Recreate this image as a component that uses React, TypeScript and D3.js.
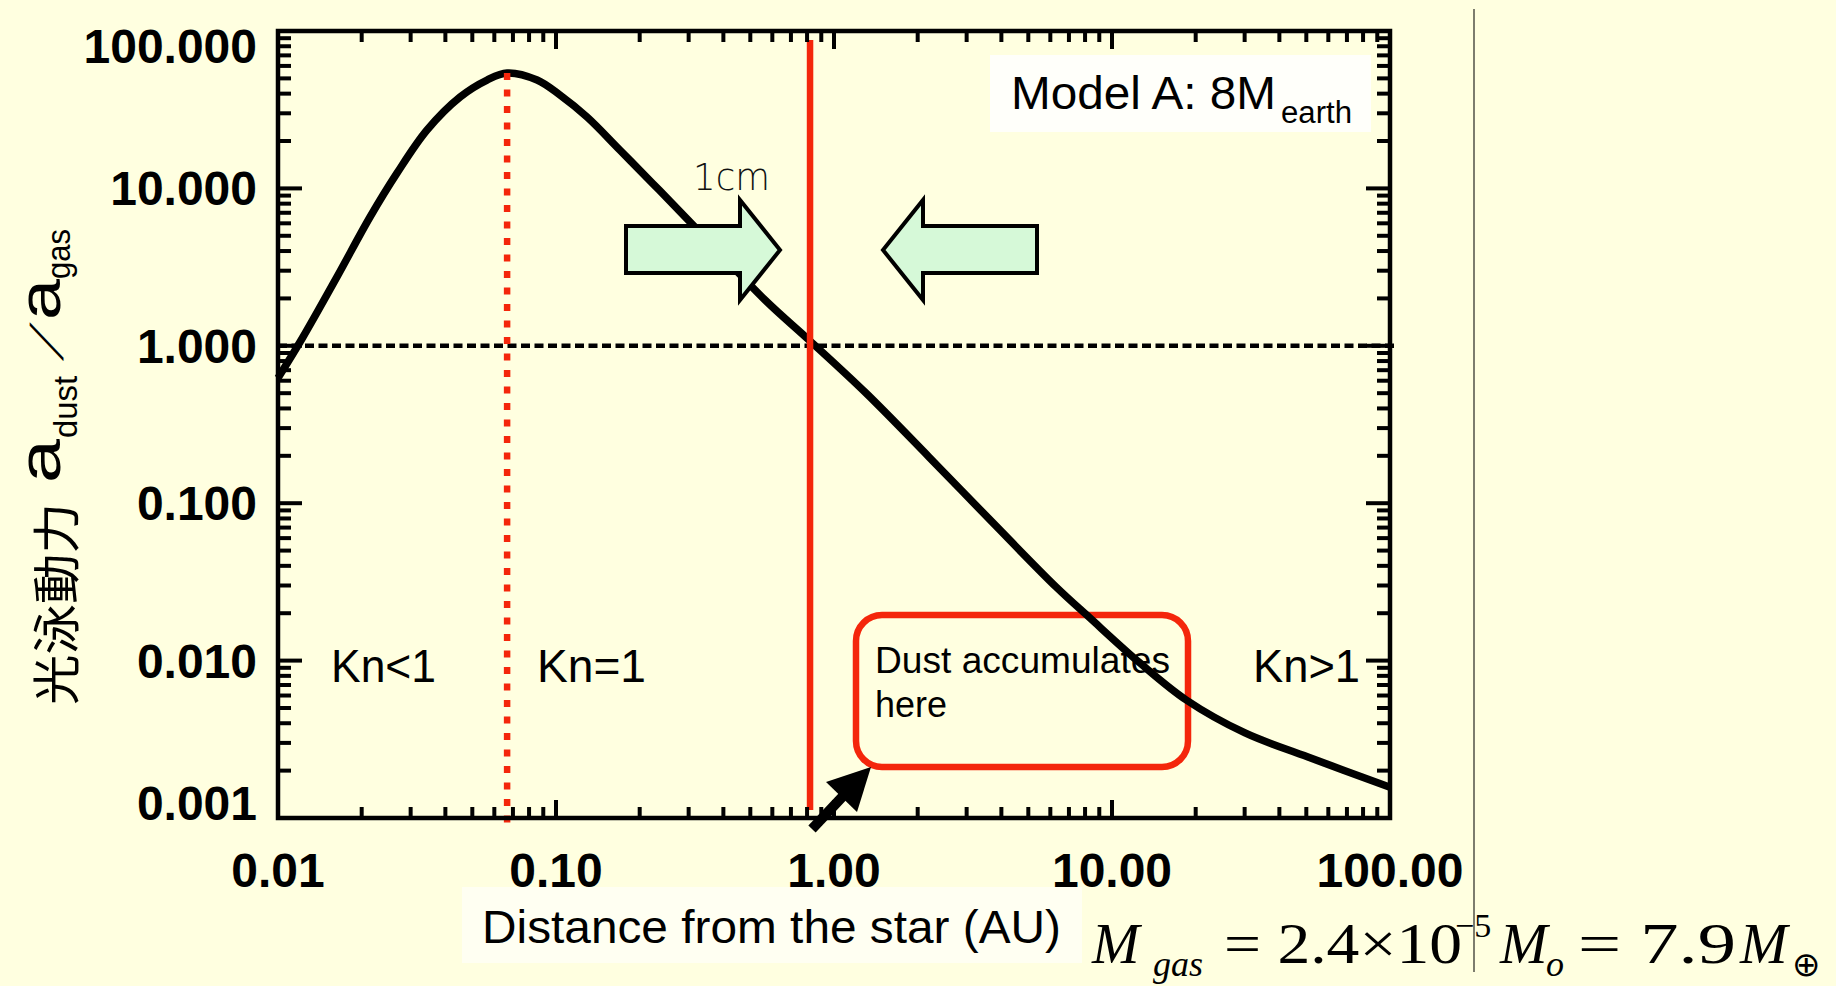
import React from 'react';
import * as d3 from 'd3';

// ---- data ----
const distanceAU = [0.01, 0.0123, 0.0163, 0.02143, 0.02679, 0.03436, 0.04519, 0.0565, 0.0667, 0.0855, 0.1033, 0.1293, 0.1698, 0.2234, 0.3112, 0.5649, 0.8128, 1.303, 2.197, 3.733, 6.29, 8.26, 12.6, 18.5, 30.1, 50.7, 100];
const accelRatio = [0.624, 1.137, 2.74, 6.58, 12.5, 23.5, 38.1, 48.8, 54.1, 48.8, 39.2, 28.4, 17.5, 10.7, 5.85, 1.954, 1.089, 0.501, 0.1965, 0.0749, 0.0294, 0.0189, 0.00966, 0.00562, 0.00347, 0.00244, 0.00157];

const xTickValues = [0.01, 0.1, 1, 10, 100];
const xTickLabels = ['0.01', '0.10', '1.00', '10.00', '100.00'];
const yTickValues = [0.001, 0.01, 0.1, 1, 10, 100];
const yTickLabels = ['0.001', '0.010', '0.100', '1.000', '10.000', '100.000'];

const peakDistance = 0.0667; // red dotted line
const accumulationDistance = 0.82; // red solid line
const unityRatio = 1;

const W = 1836;
const H = 986;
const M = { left: 278, right: 1390, top: 31, bottom: 818 };

const SANS = "'Liberation Sans', Arial, Helvetica, sans-serif";
const SERIF = "'Liberation Serif', 'Times New Roman', serif";
const CJK = "'Noto Sans CJK JP', 'Noto Sans CJK SC', sans-serif";
const RED = '#f4260b';
const BG = '#ffffe0';
const GREEN = '#d6f9d8';

export default function App() {
  const x = d3.scaleLog().domain([0.01, 100]).range([M.left, M.right]);
  const y = d3.scaleLog().domain([0.001, 100]).range([M.bottom, M.top]);

  const line = d3
    .line<number>()
    .x((_, i) => x(distanceAU[i]))
    .y((d) => y(d))
    .curve(d3.curveCatmullRom.alpha(0.5));

  const isMajor = (v: number) => Math.abs(Math.log10(v) - Math.round(Math.log10(v))) < 1e-9;
  const xTicks = x.ticks();
  const yTicks = y.ticks();

  const peakValue = d3.max(accelRatio) as number;

  const yLabelY = (v: number) => Math.min(Math.max(y(v), M.top + 15), M.bottom - 15) + 17;

  const arrowR = (x0: number, x1: number, x2: number) =>
    `${x0},226 ${x1},226 ${x1},200 ${x2},250 ${x1},300 ${x1},273 ${x0},273`;

  return (
    <svg width={W} height={H} style={{ position: 'absolute', left: 0, top: 0, display: 'block' }}>
      <rect x={0} y={0} width={W} height={H} fill={BG} />

      {/* divider line */}
      <line x1={1474} x2={1474} y1={9} y2={972} stroke="#7d7d6e" strokeWidth={2} />

      {/* Model A box */}
      <rect x={990} y={55} width={381} height={77} fill="#fffffa" />
      <text x={1011} y={109} fontFamily={SANS} fontSize={46} textLength={265} lengthAdjust="spacingAndGlyphs">Model A: 8M</text>
      <text x={1281} y={123} fontFamily={SANS} fontSize={31} textLength={71} lengthAdjust="spacingAndGlyphs">earth</text>

      {/* unity dashed line */}
      <line x1={M.left} x2={M.right + 4} y1={y(unityRatio)} y2={y(unityRatio)} stroke="#000" strokeWidth={4.5} strokeDasharray="9 4.5" />

      {/* Dust box */}
      <rect x={856} y={615} width={332} height={152} rx={26} ry={26} fill="none" stroke={RED} strokeWidth={6.5} />
      <text x={875} y={673} fontFamily={SANS} fontSize={37} textLength={295} lengthAdjust="spacingAndGlyphs">Dust accumulates</text>
      <text x={875} y={717} fontFamily={SANS} fontSize={37} textLength={72} lengthAdjust="spacingAndGlyphs">here</text>

      {/* Kn labels */}
      <text x={331} y={682} fontFamily={SANS} fontSize={46} textLength={105} lengthAdjust="spacingAndGlyphs">Kn&lt;1</text>
      <text x={537} y={682} fontFamily={SANS} fontSize={46} textLength={109} lengthAdjust="spacingAndGlyphs">Kn=1</text>
      <text x={1253} y={682} fontFamily={SANS} fontSize={46} textLength={107} lengthAdjust="spacingAndGlyphs">Kn&gt;1</text>

      {/* curve */}
      <path d={line(accelRatio) || ''} fill="none" stroke="#000" strokeWidth={7.5} strokeLinejoin="round" />

      {/* red reference lines */}
      <line x1={x(peakDistance)} x2={x(peakDistance)} y1={y(peakValue)} y2={M.bottom + 8} stroke={RED} strokeWidth={6.5} strokeDasharray="7 9.5" />
      <line x1={x(accumulationDistance)} x2={x(accumulationDistance)} y1={M.top + 9} y2={M.bottom - 8} stroke={RED} strokeWidth={6.5} />

      {/* green arrows */}
      <polygon points={arrowR(626, 740, 780)} fill={GREEN} stroke="#000" strokeWidth={4} strokeLinejoin="miter" />
      <polygon points={arrowR(1037, 923, 883)} fill={GREEN} stroke="#000" strokeWidth={4} strokeLinejoin="miter" />
      <text x={693} y={190} fontFamily="'DejaVu Sans', sans-serif" fontWeight={200} fontSize={38} textLength={77} lengthAdjust="spacingAndGlyphs" fill="#111">1cm</text>

      {/* axes frame */}
      <rect x={M.left} y={M.top} width={M.right - M.left} height={M.bottom - M.top} fill="none" stroke="#000" strokeWidth={4.5} />

      {/* x ticks (bottom & top, inward) */}
      {xTicks.map((t, i) => {
        const len = isMajor(t) ? 18 : 11;
        const xx = x(t);
        return (
          <g key={'xt' + i}>
            <line x1={xx} x2={xx} y1={M.bottom} y2={M.bottom - len} stroke="#000" strokeWidth={4} />
            <line x1={xx} x2={xx} y1={M.top} y2={M.top + len} stroke="#000" strokeWidth={4} />
          </g>
        );
      })}
      {/* y ticks (left & right, inward) */}
      {yTicks.map((t, i) => {
        const len = isMajor(t) ? 24 : 13;
        const yy = y(t);
        return (
          <g key={'yt' + i}>
            <line x1={M.left} x2={M.left + len} y1={yy} y2={yy} stroke="#000" strokeWidth={4} />
            <line x1={M.right} x2={M.right - len} y1={yy} y2={yy} stroke="#000" strokeWidth={4} />
          </g>
        );
      })}

      {/* black pointer arrow */}
      <line x1={812} y1={829} x2={845} y2={794} stroke="#000" strokeWidth={10} />
      <polygon points="826,782 871,767 857,812" fill="#000" />

      {/* tick labels */}
      {xTickValues.map((v, i) => (
        <text key={'xl' + i} x={x(v)} y={887} textAnchor="middle" fontFamily={SANS} fontWeight="bold" fontSize={48}>
          {xTickLabels[i]}
        </text>
      ))}
      {yTickValues.map((v, i) => (
        <text key={'yl' + i} x={257} y={yLabelY(v)} textAnchor="end" fontFamily={SANS} fontWeight="bold" fontSize={48}>
          {yTickLabels[i]}
        </text>
      ))}

      {/* x axis title */}
      <rect x={462} y={887} width={620} height={76} fill="#fffff2" />
      <text x={482} y={943} fontFamily={SANS} fontSize={47} textLength={579} lengthAdjust="spacingAndGlyphs">Distance from the star (AU)</text>

      {/* y axis title (rotated) */}
      <text transform="translate(74,705) rotate(-90)" fontFamily={CJK} fontSize={48} textLength={202} lengthAdjust="spacingAndGlyphs">光泳動力</text>
      <text transform="translate(60,483) rotate(-90)" fontFamily={SANS} fontSize={60} textLength={44} lengthAdjust="spacingAndGlyphs">a</text>
      <text transform="translate(77,438) rotate(-90)" fontFamily={SANS} fontSize={34} textLength={62} lengthAdjust="spacingAndGlyphs">dust</text>
      <text transform="translate(63,361) rotate(-90) skewX(-38)" fontFamily={SANS} fontSize={46}>/</text>
      <text transform="translate(60,320) rotate(-90)" fontFamily={SANS} fontSize={60} textLength={41} lengthAdjust="spacingAndGlyphs">a</text>
      <text transform="translate(70,279) rotate(-90)" fontFamily={SANS} fontSize={34} textLength={50} lengthAdjust="spacingAndGlyphs">gas</text>

      {/* mass formula */}
      <text x={1092} y={963} fontFamily={SERIF} fontStyle="italic" fontSize={57}>M</text>
      <text x={1153} y={976} fontFamily={SERIF} fontStyle="italic" fontSize={36}>gas</text>
      <text x={1224} y={963} fontFamily={SERIF} fontSize={57} textLength={238} lengthAdjust="spacingAndGlyphs">= 2.4×10</text>
      <text x={1455} y={937} fontFamily={SERIF} fontSize={34}>−5</text>
      <text x={1500} y={963} fontFamily={SERIF} fontStyle="italic" fontSize={57}>M</text>
      <text x={1546} y={976} fontFamily={SERIF} fontStyle="italic" fontSize={36}>o</text>
      <text x={1578} y={963} fontFamily={SERIF} fontSize={57} textLength={158} lengthAdjust="spacingAndGlyphs">= 7.9</text>
      <text x={1740} y={963} fontFamily={SERIF} fontStyle="italic" fontSize={57}>M</text>
      <text x={1792} y={976} fontFamily={SERIF} fontSize={34}>⊕</text>
    </svg>
  );
}
